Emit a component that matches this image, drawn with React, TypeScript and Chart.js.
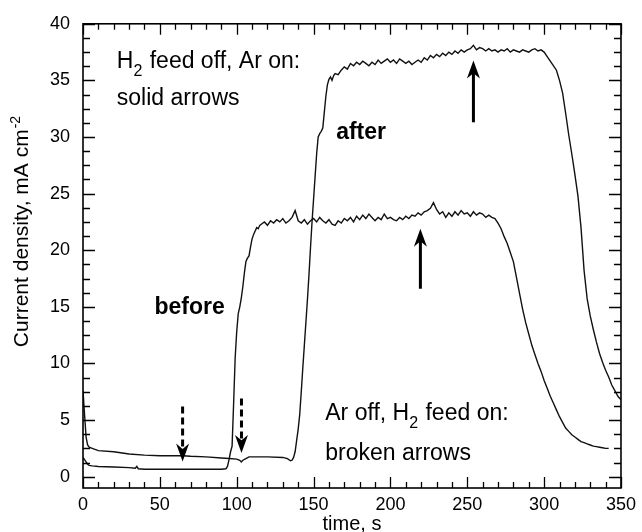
import React, { useEffect, useRef } from 'react';
import { Chart, registerables } from 'chart.js';

Chart.register(...registerables);

// ---- data (time in s, current density in mA cm-2) ----
const beforeTime = [
  0, 1, 2, 3, 4, 6, 10, 20, 30, 34, 35, 36, 40, 50, 60, 70, 80, 90, 93, 94, 95, 96, 97, 98, 99, 100,
  101, 102, 103, 104, 105, 106, 107, 108, 109, 110, 111, 112, 113, 114, 115,
  116, 118, 120, 122, 124, 126, 128, 130, 132, 134, 136, 138, 140, 142, 144, 146, 148, 150,
  152, 154, 156, 158, 160, 162, 164, 166, 168, 170, 172, 174, 176, 178, 180, 182, 184, 186,
  188, 190, 192, 194, 196, 198, 200, 202, 204, 206, 208, 210, 212, 214, 216, 218, 220, 222,
  224, 226, 228, 230, 232, 234, 236, 238, 240, 242, 244, 246, 248, 250, 252, 254, 256, 258,
  260, 262, 264, 266, 268, 270, 272, 274, 276, 278, 280, 282, 284, 286, 288, 290, 292, 294,
  296, 298, 300, 302, 304, 306, 308, 310, 312, 314, 316, 318, 320, 322, 324, 326, 328, 330,
  332, 334, 336, 338, 340, 342,
];
const beforeCurrent = [
  1.7, 1.5, 1.3, 1.1, 1.0, 0.95, 0.9, 0.85, 0.8, 0.75, 0.9, 0.7, 0.65, 0.65, 0.65, 0.65, 0.65, 0.65, 0.7, 0.9, 1.5, 2.2, 2.7, 6.5, 10.5, 12.8,
  14.4, 15.0, 15.8, 16.8, 18.0, 19.0, 19.3, 19.5, 20.3, 21.0, 21.4, 21.7, 22.0, 21.9, 22.2,
  22.3, 22.5, 22.2, 22.6, 22.4, 22.7, 22.5, 22.8, 22.4, 22.6, 22.9, 23.5, 22.6, 22.4, 22.7, 22.3, 22.6, 22.8,
  22.5, 22.9, 22.6, 22.4, 22.7, 22.3, 22.2, 22.6, 22.4, 22.8, 22.6, 22.9, 22.5, 23.0, 22.7, 23.1, 22.8, 23.2,
  22.9, 22.6, 22.9, 22.7, 23.2, 22.8, 22.9, 22.7, 22.6, 22.9, 22.7, 23.0, 22.8, 23.1, 23.0, 23.3, 23.1, 23.4,
  23.5, 23.7, 24.2, 23.6, 23.2, 23.4, 22.9, 23.3, 23.0, 23.4, 23.1, 23.5, 23.2, 23.3, 23.0, 23.4, 23.1, 23.3,
  23.2, 22.9, 23.1, 22.9, 22.8, 22.4, 21.9, 21.2, 20.6, 19.8, 19.0, 17.6, 16.2, 14.8, 13.6, 12.6, 11.6, 10.8,
  10.0, 9.3, 8.5, 7.8, 7.1, 6.5, 5.9, 5.3, 4.8, 4.3, 4.0, 3.7, 3.5, 3.3, 3.1, 3.0, 2.9, 2.8,
  2.7, 2.65, 2.6, 2.55, 2.5, 2.5,
];

const afterTime = [
  0, 1, 2, 3, 4, 6, 10, 20, 30, 40, 50, 60, 65, 70, 80, 90, 95, 100, 102, 103, 104, 106, 108, 110,
  120, 130, 133, 135, 136, 137, 138, 139, 140, 141, 142, 143, 144, 145, 146, 147, 148, 149, 150,
  151, 152, 153, 154, 155, 156, 157, 158, 159, 160, 161, 162, 163, 164, 166,
  168, 170, 172, 174, 176, 178, 180, 182, 184, 186, 188, 190, 192, 194, 196, 198, 200, 202,
  204, 206, 208, 210, 212, 214, 216, 218, 220, 222, 224, 226, 228, 230, 232, 234, 236, 238,
  240, 242, 244, 246, 248, 250, 252, 254, 256, 258, 260, 262, 264, 266, 268, 270, 272, 274,
  276, 278, 280, 282, 284, 286, 288, 290, 292, 294, 296, 298, 300, 302, 304, 306, 308, 310,
  312, 314, 316, 318, 320, 322, 324, 326, 328, 330, 332, 334, 336, 338, 340, 342, 344, 346,
  348, 350,
];
const afterCurrent = [
  7.6, 5.5, 3.5, 2.8, 2.6, 2.5, 2.3, 2.2, 2.0, 1.9, 1.85, 1.85, 1.85, 1.8, 1.75, 1.65, 1.6, 1.55, 1.45, 1.3, 1.45, 1.6, 1.75, 1.75,
  1.75, 1.7, 1.6, 1.4, 1.45, 1.7, 2.2, 3.2, 4.2, 5.5, 7.5, 9.6, 11.6, 13.6, 15.6, 17.8, 20.2, 22.5, 24.5,
  26.5, 28.5, 30.0, 30.3, 30.5, 30.8, 32.2, 33.6, 34.6, 35.1, 35.3, 35.0, 35.4, 35.6, 35.5,
  35.9, 36.2, 36.0, 36.5, 36.3, 36.6, 36.4, 36.7, 36.5, 36.3, 36.6, 36.4, 36.8, 36.5, 36.7, 36.9, 36.6, 36.8,
  36.5, 36.9, 36.7, 36.5, 36.7, 36.4, 36.6, 36.8, 36.6, 37.0, 36.8, 37.2, 37.0, 37.3, 37.1, 37.4, 37.2, 37.5,
  37.3, 37.6, 37.4, 37.7, 37.5, 37.7, 37.8, 38.1, 37.7, 37.9, 37.8, 37.6, 37.8, 37.6, 37.7, 37.5, 37.7, 37.6,
  37.8, 37.5, 37.7, 37.6, 37.5, 37.7, 37.6, 37.5, 37.7, 37.8, 37.6, 37.7, 37.5, 37.1, 36.7, 36.3, 35.9, 35.0,
  33.9, 32.1, 30.2, 28.5, 26.7, 24.8, 22.0, 18.2, 15.7, 14.2, 13.0, 11.9, 10.9, 10.1, 9.4, 8.8, 8.1, 7.6,
  7.1, 6.8,
];

const xTickLabels = [0, 50, 100, 150, 200, 250, 300, 350];
const yTickLabels = [0, 5, 10, 15, 20, 25, 30, 35, 40];

// arrows: time position, tail value, head value
const solidArrowTime = [219.5, 254];
const solidArrowTail = [16.6, 31.3];
const solidArrowHead = [21.9, 36.75];
const brokenArrowTime = [64.8, 103.1];
const brokenArrowTail = [6.2, 6.9];
const brokenArrowHead = [1.34, 2.1];

const FONT = '"Liberation Sans", Arial, Helvetica, sans-serif';

function drawArrow(ctx: CanvasRenderingContext2D, x: number, y0: number, y1: number, dashed: boolean) {
  const dir = Math.sign(y1 - y0);
  const headLen = 18;
  const headW = 6.5;
  ctx.save();
  ctx.strokeStyle = '#000';
  ctx.fillStyle = '#000';
  ctx.lineWidth = 3;
  ctx.setLineDash(dashed ? [7, 4] : []);
  ctx.beginPath();
  ctx.moveTo(x, y0);
  ctx.lineTo(x, y1 - dir * headLen * 0.6);
  ctx.stroke();
  ctx.setLineDash([]);
  ctx.beginPath();
  ctx.moveTo(x, y1);
  ctx.lineTo(x - headW, y1 - dir * headLen);
  ctx.lineTo(x, y1 - dir * headLen * 0.7);
  ctx.lineTo(x + headW, y1 - dir * headLen);
  ctx.closePath();
  ctx.fill();
  ctx.restore();
}

function drawSubText(ctx: CanvasRenderingContext2D, parts: { t: string; sub?: boolean }[], x: number, y: number) {
  let cx = x;
  for (const p of parts) {
    ctx.font = p.sub ? `16px ${FONT}` : `23px ${FONT}`;
    ctx.fillText(p.t, cx, p.sub ? y + 8 : y);
    cx += ctx.measureText(p.t).width + (p.sub ? 1 : 0);
  }
}

const decorPlugin = {
  id: 'decor',
  afterDraw(chart: any) {
    const { ctx, chartArea, scales } = chart;
    const { left, right, top, bottom } = chartArea;
    const xs = scales.x;
    const ys = scales.y;
    ctx.save();
    ctx.strokeStyle = '#000';
    ctx.lineWidth = 1.6;
    ctx.strokeRect(left, top, right - left, bottom - top);
    ctx.lineWidth = 1.3;
    ctx.beginPath();
    for (let k = 0; k <= 35; k++) {
      const v = k * 10;
      const px = Math.round(xs.getPixelForValue(v)) + 0.5;
      const len = k % 5 === 0 ? 11 : 6;
      ctx.moveTo(px, bottom);
      ctx.lineTo(px, bottom - len);
      ctx.moveTo(px, top);
      ctx.lineTo(px, top + len);
    }
    for (let k = 0; k <= 32; k++) {
      const v = k * 1.25;
      const py = Math.round(ys.getPixelForValue(v)) + 0.5;
      const len = k % 4 === 0 ? 12 : 7;
      ctx.moveTo(left, py);
      ctx.lineTo(left + len, py);
      ctx.moveTo(right, py);
      ctx.lineTo(right - len, py);
    }
    ctx.stroke();

    // arrows
    solidArrowTime.forEach((t, i) => {
      drawArrow(ctx, xs.getPixelForValue(t), ys.getPixelForValue(solidArrowTail[i]), ys.getPixelForValue(solidArrowHead[i]), false);
    });
    brokenArrowTime.forEach((t, i) => {
      drawArrow(ctx, xs.getPixelForValue(t), ys.getPixelForValue(brokenArrowTail[i]), ys.getPixelForValue(brokenArrowHead[i]), true);
    });

    // annotations
    ctx.fillStyle = '#000';
    ctx.textBaseline = 'alphabetic';
    ctx.textAlign = 'left';
    drawSubText(ctx, [{ t: 'H' }, { t: '2', sub: true }, { t: ' feed off, Ar on:' }], xs.getPixelForValue(22), ys.getPixelForValue(36.1));
    drawSubText(ctx, [{ t: 'solid arrows' }], xs.getPixelForValue(22), ys.getPixelForValue(32.8));
    drawSubText(ctx, [{ t: 'Ar off, H' }, { t: '2', sub: true }, { t: ' feed on:' }], xs.getPixelForValue(157.6), ys.getPixelForValue(4.97));
    drawSubText(ctx, [{ t: 'broken arrows' }], xs.getPixelForValue(157.6), ys.getPixelForValue(1.46));
    ctx.font = `bold 23px ${FONT}`;
    ctx.fillText('before', xs.getPixelForValue(46.5), ys.getPixelForValue(14.36));
    ctx.fillText('after', xs.getPixelForValue(164.7), ys.getPixelForValue(29.85));

    // x axis title
    ctx.font = `20px ${FONT}`;
    ctx.textAlign = 'center';
    ctx.fillText('time, s', (left + right) / 2, 530);

    // y axis title with superscript
    ctx.save();
    ctx.translate(28, 231.5);
    ctx.rotate(-Math.PI / 2);
    ctx.textAlign = 'left';
    ctx.font = `21px ${FONT}`;
    const main = 'Current density, mA cm';
    const w1 = ctx.measureText(main).width;
    ctx.font = `14px ${FONT}`;
    const sup = '-2';
    const w2 = ctx.measureText(sup).width;
    const start = -(w1 + w2 + 1) / 2;
    ctx.font = `21px ${FONT}`;
    ctx.fillText(main, start, 0);
    ctx.font = `14px ${FONT}`;
    ctx.fillText(sup, start + w1 + 1, -8);
    ctx.restore();

    ctx.restore();
  },
};

export default function App() {
  const canvasRef = useRef<HTMLCanvasElement | null>(null);

  useEffect(() => {
    if (!canvasRef.current) return;
    const chart = new Chart(canvasRef.current, {
      type: 'line',
      data: {
        datasets: [
          {
            label: 'before',
            data: beforeTime.map((t, i) => ({ x: t, y: beforeCurrent[i] })),
            borderColor: '#111',
            borderWidth: 1.4,
            pointRadius: 0,
            tension: 0,
            fill: false,
          },
          {
            label: 'after',
            data: afterTime.map((t, i) => ({ x: t, y: afterCurrent[i] })),
            borderColor: '#111',
            borderWidth: 1.4,
            pointRadius: 0,
            tension: 0,
            fill: false,
          },
        ],
      },
      options: {
        animation: false,
        responsive: false,
        events: [],
        layout: { padding: { left: 0, top: 21, right: 17, bottom: 0 } },
        plugins: { legend: { display: false }, tooltip: { enabled: false }, title: { display: false } },
        scales: {
          x: {
            type: 'linear',
            min: 0,
            max: 350,
            grid: { display: false, drawTicks: false },
            border: { display: false },
            ticks: {
              color: '#000',
              font: { family: FONT, size: 18 },
              padding: 6,
              maxRotation: 0,
              autoSkip: false,
              callback: (v: any) => String(v),
            },
            afterBuildTicks: (s: any) => {
              s.ticks = xTickLabels.map((v) => ({ value: v }));
            },
            afterFit: (s: any) => {
              s.height = 44;
            },
          },
          y: {
            type: 'linear',
            min: -1,
            max: 40,
            grid: { display: false, drawTicks: false },
            border: { display: false },
            ticks: {
              color: '#000',
              font: { family: FONT, size: 18 },
              padding: 13,
              autoSkip: false,
              callback: (v: any) => String(v),
            },
            afterBuildTicks: (s: any) => {
              s.ticks = yTickLabels.map((v) => ({ value: v }));
            },
            afterFit: (s: any) => {
              s.width = 83;
            },
          },
        },
      } as any,
      plugins: [decorPlugin],
    });
    return () => chart.destroy();
  }, []);

  return (
    <div style={{ position: 'fixed', left: 0, top: 0, width: 642, height: 532, background: '#fff' }}>
      <canvas ref={canvasRef} width={642} height={532} style={{ display: 'block' }} />
    </div>
  );
}
